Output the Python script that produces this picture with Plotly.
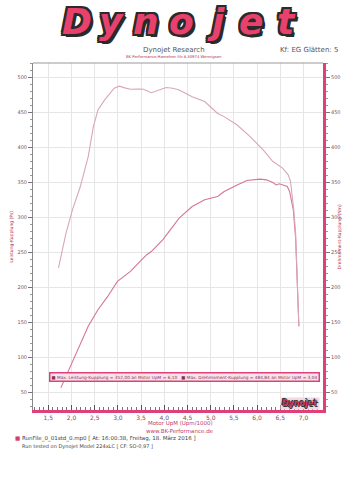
import plotly.graph_objects as go

# ---------------- data ----------------
torque_rpm = [1.72, 1.88, 2.02, 2.19, 2.36, 2.47, 2.57, 2.71, 2.92, 3.03, 3.15, 3.27, 3.45, 3.55,
              3.72, 3.90, 4.04, 4.18, 4.32, 4.60, 4.87, 5.15, 5.29, 5.57, 5.85, 6.13, 6.34,
              6.55, 6.67, 6.72, 6.79, 6.83, 6.86, 6.90]
torque_nm = [227.6, 277.0, 310.6, 343.8, 386.5, 429.0, 453.0, 467.0, 484.0, 487.0, 484.5, 482.5,
             483.0, 482.5, 477.6, 481.5, 485.0, 484.0, 481.5, 472.0, 465.0, 448.0, 443.5, 431.6,
             415.0, 396.0, 379.4, 370.0, 360.4, 351.0, 310.6, 277.4, 230.0, 144.4]

power_rpm = [1.77, 1.98, 2.19, 2.36, 2.57, 2.78, 2.99, 3.27, 3.62, 3.72, 3.97, 4.18, 4.32,
             4.60, 4.87, 5.15, 5.29, 5.57, 5.78, 6.06, 6.20, 6.34, 6.41, 6.48, 6.65, 6.70,
             6.78, 6.83, 6.86, 6.90]
power_ps = [56.6, 87.5, 120.8, 144.4, 168.0, 187.0, 208.5, 222.7, 246.5, 251.0, 268.0, 287.0,
            298.8, 315.3, 325.0, 329.5, 336.7, 346.0, 352.3, 354.3, 353.3, 349.5, 346.0, 347.6,
            343.8, 336.7, 310.6, 270.0, 225.0, 144.4]

x_tickvals = [1.5, 2.0, 2.5, 3.0, 3.5, 4.0, 4.5, 5.0, 5.5, 6.0, 6.5, 7.0]
x_ticktext = ["1,5", "2,0", "2,5", "3,0", "3,5", "4,0", "4,5", "5,0", "5,5", "6,0", "6,5", "7,0"]
y_tickvals = [50, 100, 150, 200, 250, 300, 350, 400, 450, 500]

logo_letters = ["D", "y", "n", "o", "j", "e", "t"]

X_RANGE = [1.17, 7.42]
Y_RANGE = [25, 520]

PINK = "#e0407a"
TORQUE_COL = "#d9a6bb"
POWER_COL = "#d5759a"
LABEL_COL = "#7a5060"
FONT = "DejaVu Sans"

fig = go.Figure()
fig.add_trace(go.Scatter(x=torque_rpm, y=torque_nm, mode="lines",
                         line=dict(color=TORQUE_COL, width=1.1), yaxis="y2",
                         showlegend=False, hoverinfo="skip"))
fig.add_trace(go.Scatter(x=power_rpm, y=power_ps, mode="lines",
                         line=dict(color=POWER_COL, width=1.1),
                         showlegend=False, hoverinfo="skip"))

W, H = 353, 500
L, R, T, B = 33, 21, 63, 90
pw, ph = W - L - R, H - T - B


def px(x):
    return (x - L) / pw


def py(y):
    return (H - B - y) / ph


fig.update_layout(
    width=W, height=H,
    margin=dict(l=L, r=R, t=T, b=B, pad=0),
    paper_bgcolor="white", plot_bgcolor="white",
    font=dict(family=FONT, size=6, color=LABEL_COL),
    xaxis=dict(range=X_RANGE, tickvals=x_tickvals, ticktext=x_ticktext,
               showgrid=True, gridcolor="#e6e6e6", gridwidth=1,
               showline=True, linecolor=PINK, linewidth=3,
               ticks="inside", ticklen=5, tickcolor="#555", tickwidth=1,
               minor=dict(dtick=0.1, ticks="inside", ticklen=3, tickcolor="#777", showgrid=False),
               tickfont=dict(size=6, color=LABEL_COL), zeroline=False, mirror=False),
    yaxis=dict(range=Y_RANGE, tickvals=y_tickvals, showgrid=True, gridcolor="#e6e6e6",
               showline=True, linecolor="#888", linewidth=1,
               ticks="outside", ticklen=4, tickcolor="#777",
               minor=dict(dtick=10, ticks="outside", ticklen=2, tickcolor="#999", showgrid=False),
               tickfont=dict(size=5, color=LABEL_COL), zeroline=False),
    yaxis2=dict(range=Y_RANGE, tickvals=y_tickvals, overlaying="y", side="right",
                showgrid=False, showline=True, linecolor=PINK, linewidth=3,
                ticks="outside", ticklen=4, tickcolor="#777",
                minor=dict(dtick=10, ticks="outside", ticklen=2, tickcolor="#999"),
                tickfont=dict(size=5, color=LABEL_COL), zeroline=False),
)

# top frame line
fig.add_shape(type="line", xref="paper", yref="paper", x0=0, x1=1, y0=1, y1=1,
              line=dict(color="#999", width=1))


def note(x, y, text, xanchor="center", **kw):
    d = dict(x=px(x), y=py(y), xref="paper", yref="paper", showarrow=False,
             xanchor=xanchor, yanchor="middle", text=text)
    d.update(kw)
    return d


OUT = "#2a2a2a"
logo_shadow = (f"-2px -2px 0 {OUT}, 2px -2px 0 {OUT}, -2px 2px 0 {OUT}, 2px 2px 0 {OUT}, "
               f"0 -2px 0 {OUT}, 0 2px 0 {OUT}, -2px 0 0 {OUT}, 2px 0 0 {OUT}, 3px 3px 0 {OUT}")

ann = []
# wide logo: letters spread across the header
x0_logo, step_logo = 78, 36
for i, ch in enumerate(logo_letters):
    ann.append(note(x0_logo + i * step_logo, 21, f"<b><i>{ch}</i></b>",
                    font=dict(family="DejaVu Sans", size=36, color="#e8416e", shadow=logo_shadow)))

ann += [
    note(178, 49.5, "Dynojet Research", font=dict(size=7, color="#555")),
    note(178, 56, "BK Performance,Hamelner Str.8,30974 Wennigsen", font=dict(size=3.8, color="#b03050")),
    note(350, 49.5, "Kf: EG Glätten: 5", xanchor="right", font=dict(size=7, color="#555")),
    note(10, 237, "Leistung-Kupplung (Ps)", textangle=-90, font=dict(size=4.5, color="#b03050")),
    note(349, 237, "Drehmoment-Kupplung (Nm)", textangle=-90, font=dict(size=4.5, color="#b03050")),
    note(185, 423, "Motor UpM (Upm/1000)", font=dict(size=5.5, color="#c04068")),
    note(185, 431, "www.BK-Performance.de", font=dict(size=5.5, color="#c04068")),
    note(12, 438, "<span style='color:#d0406e'>■</span> RunFile_0_01std_0.mp0 [ At: 16:00:38, Freitag, 18. März 2016 ]",
         xanchor="left", font=dict(size=5.5, color="#444")),
    note(20, 446, "Run tested on Dynojet Model 224xLC [ CF: SO-0,97 ]",
         xanchor="left", font=dict(size=5, color="#444")),
    note(50, 377, "■ Max. Leistung-Kupplung = 352,00 an Motor UpM = 6,10   ■ Max. Drehmoment-Kupplung = 484,84 an Motor UpM = 3,04",
         xanchor="left", bgcolor="#f7e4ea", bordercolor=PINK, borderwidth=1.5, borderpad=1,
         font=dict(size=4.3, color="#8a3050")),
    note(329, 403, "<b><i>Dynojet</i></b>", xanchor="right", bgcolor="#f0d8e0",
         font=dict(size=8, color="#d0305e", shadow="-1px -1px 0 #333, 1px 1px 0 #333")),
]
fig.update_layout(annotations=ann)

fig.write_html("out.html")
